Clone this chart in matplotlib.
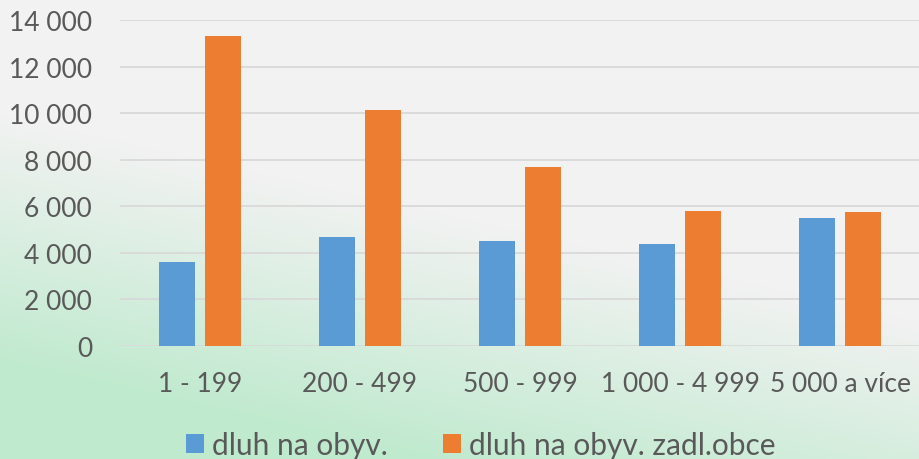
import numpy as np
import matplotlib
matplotlib.use("Agg")
import matplotlib.pyplot as plt
from matplotlib.ticker import FuncFormatter
from matplotlib.colors import to_rgb

categories = ["1 - 199", "200 - 499", "500 - 999", "1 000 - 4 999", "5 000 a více"]
dluh_obyv = [3610, 4680, 4510, 4380, 5480]
dluh_zadl = [13310, 10130, 7690, 5810, 5770]
series_names = ["dluh na obyv.", "dluh na obyv. zadl.obce"]

blue = "#5b9bd5"
orange = "#ed7d31"
text_col = "#595959"

plt.rcParams["font.family"] = ["Lato", "DejaVu Sans"]

fig = plt.figure(figsize=(9.2, 4.6), dpi=100)

# background gradient: grey top-right -> light green bottom-left
bg = fig.add_axes([0, 0, 1, 1], zorder=-10)
h, w = 460, 920
yy, xx = np.mgrid[0:h, 0:w]
t = (yy / h) - 0.45 * (xx / w)
t = np.clip((t - 0.25) / 0.55, 0, 1)
c0 = np.array(to_rgb("#f2f2f2"))
c1 = np.array(to_rgb("#bfeace"))
img = c0[None, None, :] * (1 - t[..., None]) + c1[None, None, :] * t[..., None]
bg.imshow(img, aspect="auto", extent=[0, 1, 0, 1], origin="upper")
bg.axis("off")

ax = fig.add_axes([120 / 920, 1 - 347 / 460, 800 / 920, 326 / 460])
ax.patch.set_alpha(0)

x = np.arange(len(categories))
bw = 0.225
ax.bar(x - 0.143, dluh_obyv, bw, color=blue, label=series_names[0], zorder=3)
ax.bar(x + 0.143, dluh_zadl, bw, color=orange, label=series_names[1], zorder=3)

ax.set_xlim(-0.5, len(categories) - 0.5)
ax.set_ylim(0, 14000)
ax.set_yticks(range(0, 14001, 2000))
ax.yaxis.set_major_formatter(FuncFormatter(lambda v, p: f"{int(v):,}".replace(",", " ")))
ax.set_xticks(x)
ax.set_xticklabels(categories)
ax.grid(axis="y", color="#d9d9d9", linewidth=1.3, zorder=0)
for s in ax.spines.values():
    s.set_visible(False)
ax.tick_params(axis="both", length=0, labelsize=19, colors=text_col)
ax.tick_params(axis="y", pad=20)
ax.tick_params(axis="x", pad=18)

handles, labels = ax.get_legend_handles_labels()
leg = fig.legend(handles, labels, loc="center", bbox_to_anchor=(481 / 920, 1 - 446 / 460),
                 ncol=2, frameon=False, fontsize=21.5, handlelength=0.6, handleheight=0.6,
                 handletextpad=0.27, columnspacing=1.85, borderpad=0, borderaxespad=0)
for t_ in leg.get_texts():
    t_.set_color(text_col)

fig.savefig("out.png", dpi=100)
